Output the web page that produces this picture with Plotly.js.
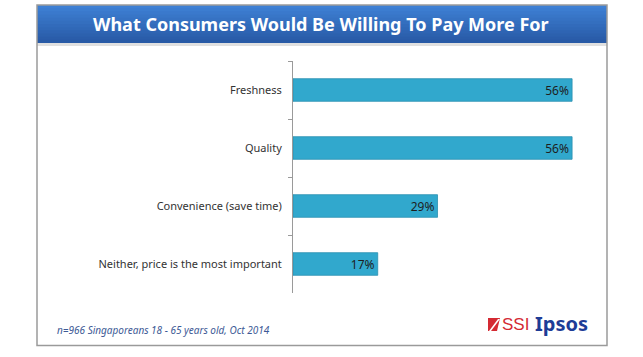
<!DOCTYPE html>
<html>
<head>
<meta charset="utf-8">
<script src="https://cdn.plot.ly/plotly-3.0.1.min.js"></script>
<style>html,body{margin:0;padding:0;background:#fff;}#chart{width:643px;height:357px;}</style>
</head>
<body>
<div id="chart"></div>
<script>
var categories = ["Freshness", "Quality", "Convenience (save time)", "Neither, price is the most important"];
var values = [56, 56, 29, 17];
var valueLabels = ["56%", "56%", "29%", "17%"];
var chartTitle = "What Consumers Would Be Willing To Pay More For";
var footnote = "n=966 Singaporeans 18 - 65 years old, Oct 2014";

var W = 643, H = 357;
var ML = 293, MR = 43, MT = 61, MB = 64;
var PW = W - ML - MR, PH = H - MT - MB;
function px(x){return (x - ML) / PW;}
function py(y){return (H - MB - y) / PH;}

var shapes = [];
// shadow under title bar
shapes.push({type: "rect", xref: "paper", yref: "paper", x0: px(37), x1: px(607), y0: py(46), y1: py(42),
  fillcolor: "#e0e0e0", line: {width: 0}, layer: "below"});
// title bar gradient (overlapping strips)
var top0 = 5, bot0 = 43, n = 12;
var c1 = [62, 128, 212], c2 = [40, 90, 166];
for (var i = 0; i < n; i++) {
  var t = i / (n - 1);
  var c = c1.map(function(v, k){return Math.round(v + (c2[k] - v) * t);});
  var y0 = top0 + (bot0 - top0) * i / n;
  shapes.push({type: "rect", xref: "paper", yref: "paper", x0: px(37), x1: px(607), y0: py(bot0), y1: py(y0),
    fillcolor: "rgb(" + c.join(",") + ")", line: {width: 0}, layer: "below"});
}
// outer frame
shapes.push({type: "rect", xref: "paper", yref: "paper", x0: px(37), x1: px(607), y0: py(345.5), y1: py(5),
  fillcolor: "rgba(0,0,0,0)", line: {color: "#9a9a9a", width: 1.5}});
// SSI red mark
shapes.push({type: "path", xref: "paper", yref: "paper",
  path: "M " + [px(488), py(318)].join(",") + " L " + [px(500), py(318)].join(",") + " L " + [px(497), py(331)].join(",") + " L " + [px(488), py(331)].join(",") + " Z",
  fillcolor: "#d42a33", line: {width: 0}});
shapes.push({type: "path", xref: "paper", yref: "paper",
  path: "M " + [px(498), py(319)].join(",") + " L " + [px(500), py(319)].join(",") + " L " + [px(491), py(331)].join(",") + " L " + [px(489), py(331)].join(",") + " Z",
  fillcolor: "#ffffff", line: {width: 0}});

var annotations = [
  {text: "<b>" + chartTitle + "</b>", xref: "paper", yref: "paper", x: px(321), y: py(24), xanchor: "center", yanchor: "middle",
   showarrow: false, font: {family: "Noto Sans, sans-serif", size: 18, color: "#ffffff"}},
  {text: "<i>" + footnote + "</i>", xref: "paper", yref: "paper", x: px(55), y: py(330), xanchor: "left", yanchor: "middle",
   showarrow: false, font: {family: "Noto Sans, sans-serif", size: 10, color: "#3d5a96"}},
  {text: "SSI", xref: "paper", yref: "paper", x: px(500), y: py(324), xanchor: "left", yanchor: "middle",
   showarrow: false, font: {family: "Liberation Sans Narrow, Liberation Sans, sans-serif", size: 17, color: "#d42a33"}},
  {text: "<b>Ipsos</b>", xref: "paper", yref: "paper", x: px(533), y: py(323), xanchor: "left", yanchor: "middle",
   showarrow: false, font: {family: "Noto Sans, sans-serif", size: 20, color: "#1d3c96"}}
];

var trace = {
  type: "bar",
  orientation: "h",
  y: categories,
  x: values,
  text: valueLabels,
  textposition: "inside",
  insidetextanchor: "end",
  textfont: {family: "Noto Sans, sans-serif", size: 13, color: "#1e1e1e"},
  marker: {color: "#31a8cd", line: {color: "#2a8fb0", width: 0.8}},
  width: 0.39,
  cliponaxis: false,
  hoverinfo: "none"
};

var layout = {
  width: W, height: H,
  margin: {l: ML, r: MR, t: MT, b: MB, pad: 0},
  paper_bgcolor: "#ffffff",
  plot_bgcolor: "#ffffff",
  showlegend: false,
  xaxis: {range: [0, 61.6], visible: false, fixedrange: true},
  yaxis: {
    type: "category",
    autorange: "reversed",
    showline: true, linecolor: "#9a9a9a", linewidth: 1,
    ticks: "outside", ticklen: 4, tickcolor: "#9a9a9a", tickson: "boundaries",
    ticklabelstandoff: 8,
    showgrid: false, zeroline: false,
    tickfont: {family: "Noto Sans, sans-serif", size: 11, color: "#333333"},
    fixedrange: true
  },
  shapes: shapes,
  annotations: annotations
};

Plotly.newPlot("chart", [trace], layout, {displayModeBar: false, staticPlot: true});
</script>
</body>
</html>
